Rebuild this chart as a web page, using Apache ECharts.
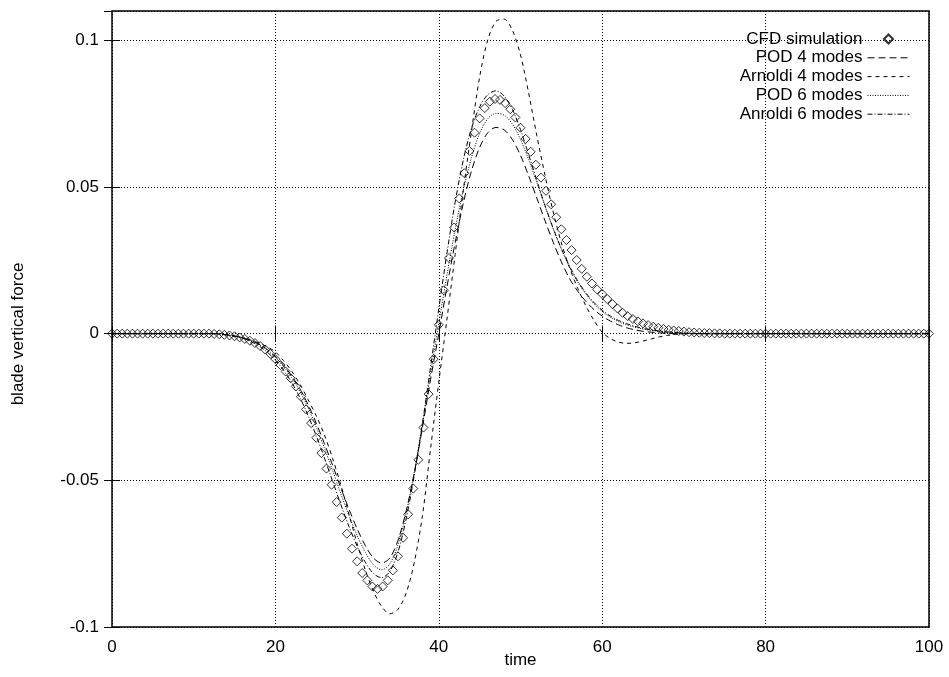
<!DOCTYPE html>
<html>
<head>
<meta charset="utf-8">
<title>blade vertical force</title>
<script src="https://cdn.jsdelivr.net/npm/echarts@6/dist/echarts.min.js"></script>
<style>
  html, body { margin: 0; padding: 0; background: #fff; }
  #chart { width: 949px; height: 677px; }
</style>
</head>
<body>
<div id="chart"></div>
<script>
// CFD samples, one every DT time units (t = 0 .. 100)
const DT = 0.625;
const cfdForce = [
  0, 0, 0, 0, 0, 0, 0, 0, 0, 0,
  0, 0, 0, 0, 0, 0, 0, 0, 0, 0,
  -0.0001, -0.0002, -0.0004, -0.0006, -0.0009, -0.0013, -0.0018, -0.0024, -0.0032, -0.0042,
  -0.0054, -0.0069, -0.0087, -0.0107, -0.0129, -0.0152, -0.018, -0.0215, -0.0258, -0.0305,
  -0.0355, -0.0407, -0.046, -0.0515, -0.0574, -0.0627, -0.0682, -0.0733, -0.0776, -0.0816,
  -0.0841, -0.0862, -0.087, -0.0862, -0.0841, -0.0807, -0.0759, -0.0696, -0.0616, -0.0528,
  -0.043, -0.032, -0.0206, -0.0087, 0.003, 0.0148, 0.0258, 0.0362, 0.0461, 0.0547,
  0.0623, 0.0685, 0.0734, 0.0769, 0.0791, 0.08, 0.0797, 0.0786, 0.0765, 0.0737,
  0.0702, 0.0664, 0.062, 0.0576, 0.0532, 0.0487, 0.0441, 0.0397, 0.0356, 0.0319,
  0.0285, 0.0251, 0.0221, 0.0194, 0.0171, 0.0151, 0.0135, 0.0118, 0.0101, 0.0086,
  0.0071, 0.006, 0.005, 0.0042, 0.0035, 0.0029, 0.0024, 0.002, 0.0016, 0.0013,
  0.0011, 0.0009, 0.0007, 0.0005, 0.0004, 0.0003, 0.0002, 0.0002, 0.0001, 0.0001,
  0, 0, 0, 0, 0, 0, 0, 0, 0, 0,
  0, 0, 0, 0, 0, 0, 0, 0, 0, 0,
  0, 0, 0, 0, 0, 0, 0, 0, 0, 0,
  0, 0, 0, 0, 0, 0, 0, 0, 0, 0,
  0
];

// reduced order models, read at these times
const modelTime = [
  0,
  12, 13, 14, 15, 16, 17, 18, 19,
  20, 21, 22, 23, 24, 25, 26, 27, 28, 29,
  30, 31, 32, 33, 34, 35, 36, 37, 38, 39,
  40, 41, 42, 43, 44, 45, 46, 47, 48, 49,
  50, 51, 52, 53, 54, 55, 56, 57, 58, 59,
  60, 61, 62, 63, 64, 65, 66, 67, 68, 69,
  70, 71, 72,
  100
];
const pod4 = [
  0,
  0, 0, -0.0004, -0.0008, -0.0014, -0.0023, -0.0036, -0.0054,
  -0.0078, -0.0108, -0.0144, -0.0188, -0.0242, -0.0305, -0.0375, -0.0448, -0.0525, -0.0598,
  -0.0665, -0.0722, -0.0765, -0.0782, -0.0765, -0.0705, -0.0605, -0.0475, -0.032, -0.0155,
  0, 0.016, 0.031, 0.0445, 0.0555, 0.0635, 0.0685, 0.0703, 0.0695, 0.0662,
  0.0608, 0.0538, 0.0462, 0.0385, 0.0312, 0.0245, 0.0188, 0.0145, 0.011, 0.0082,
  0.006, 0.0043, 0.003, 0.002, 0.0013, 0.0008, 0.0005, 0.0003, 0.0001, 0,
  0, 0, 0,
  0
];
const arnoldi4 = [
  0,
  0, -0.0001, -0.0004, -0.0008, -0.0014, -0.0022, -0.0032, -0.0045,
  -0.0062, -0.0092, -0.0128, -0.0172, -0.0225, -0.028, -0.0345, -0.0425, -0.0515, -0.0615,
  -0.0715, -0.0805, -0.0878, -0.093, -0.0955, -0.094, -0.0885, -0.078, -0.062, -0.039,
  -0.0165, 0.005, 0.027, 0.049, 0.069, 0.0875, 0.1002, 0.1065, 0.1072, 0.1035,
  0.095, 0.082, 0.0675, 0.054, 0.0415, 0.031, 0.0225, 0.0155, 0.0095, 0.0045,
  0.0005, -0.0017, -0.0029, -0.0033, -0.0031, -0.0025, -0.0018, -0.0011, -0.0006, -0.0002,
  0, 0, 0,
  0
];
const pod6 = [
  0,
  0, 0, -0.0004, -0.0008, -0.0014, -0.0024, -0.0037, -0.0056,
  -0.0081, -0.0112, -0.015, -0.0196, -0.0252, -0.0318, -0.039, -0.0466, -0.0545, -0.062,
  -0.0688, -0.0745, -0.0788, -0.0805, -0.0785, -0.072, -0.0612, -0.0472, -0.0308, -0.0135,
  0.0035, 0.02, 0.0355, 0.049, 0.06, 0.0683, 0.0733, 0.0751, 0.0745, 0.0715,
  0.0662, 0.0593, 0.0515, 0.0435, 0.0358, 0.0288, 0.0227, 0.0176, 0.0135, 0.0102,
  0.0076, 0.0056, 0.0041, 0.003, 0.0022, 0.0016, 0.0011, 0.0008, 0.0005, 0.0003,
  0.0002, 0.0001, 0,
  0
];
const arnoldi6 = [
  0,
  0, 0, -0.0004, -0.0009, -0.0016, -0.0027, -0.0042, -0.0063,
  -0.009, -0.0125, -0.0167, -0.0218, -0.0279, -0.0348, -0.0424, -0.0503, -0.0582, -0.0657,
  -0.0724, -0.0779, -0.0818, -0.0832, -0.0811, -0.0745, -0.0632, -0.0482, -0.0305, -0.0112,
  0.0085, 0.0275, 0.0448, 0.0592, 0.07, 0.0773, 0.0815, 0.0828, 0.081, 0.0765,
  0.0695, 0.061, 0.0522, 0.0437, 0.0359, 0.029, 0.023, 0.018, 0.0139, 0.0106,
  0.008, 0.006, 0.0045, 0.0034, 0.0025, 0.0018, 0.0013, 0.0009, 0.0006, 0.0004,
  0.0002, 0.0001, 0,
  0
];

const FONT = '"Liberation Sans", Arial, Helvetica, sans-serif';

const pairs = (xs, ys) => xs.map((x, i) => [x, ys[i]]);
const cfdTime = cfdForce.map((_, i) => i * DT);

const tickStyle = { show: true, inside: true, length: 8, lineStyle: { color: '#000', width: 1 } };
const gridLine = { show: true, lineStyle: { color: '#000', width: 1, type: [1, 2] } };
const labelStyle = { color: '#000', fontSize: 17, fontFamily: FONT };
// legend sample for the lines: keep the dashed line, hide the marker in its middle
const lineKey = name => ({ name: name, itemStyle: { opacity: 0 } });

function modelLine(name, data, dash) {
  return {
    name: name,
    type: 'line',
    data: pairs(modelTime, data),
    symbol: 'none',
    smooth: 0.3,
    itemStyle: { color: '#000' },
    lineStyle: { color: '#000', width: 1, type: dash },
    silent: true
  };
}

const chart = echarts.init(document.getElementById('chart'));
chart.setOption({
  animation: false,
  backgroundColor: '#fff',
  textStyle: { fontFamily: FONT },
  grid: {
    left: 112, right: 20, top: 11, bottom: 50,
    containLabel: false,
    outerBoundsMode: 'none',
    show: true,
    borderColor: '#000',
    borderWidth: 1.5
  },
  legend: {
    orient: 'vertical',
    right: 39,
    top: 30,
    padding: 0,
    align: 'right',
    itemWidth: 42,
    itemHeight: 9,
    itemGap: 0.8,
    symbolKeepAspect: true,
    selectedMode: false,
    lineStyle: { width: 1 },
    textStyle: { color: '#000', fontSize: 17, fontFamily: FONT, lineHeight: 18 },
    data: [
      { name: 'CFD simulation', icon: 'path://M0,-1L1,0L0,1L-1,0Z' },
      lineKey('POD 4 modes'),
      lineKey('Arnoldi 4 modes'),
      lineKey('POD 6 modes'),
      lineKey('Anroldi 6 modes')
    ]
  },
  xAxis: [
    {
      type: 'value', min: 0, max: 100, interval: 20, position: 'bottom',
      name: 'time', nameLocation: 'middle', nameGap: 25, nameMoveOverlap: false,
      nameTextStyle: labelStyle,
      axisLine: { show: false },
      axisTick: tickStyle,
      axisLabel: Object.assign({ margin: 12 }, labelStyle),
      splitLine: gridLine
    },
    {
      type: 'value', min: 0, max: 100, interval: 20, position: 'top',
      axisLine: { show: false },
      axisTick: tickStyle,
      axisLabel: { show: false },
      splitLine: { show: false }
    }
  ],
  yAxis: [
    {
      type: 'value', min: -0.1, max: 0.11, interval: 0.05, position: 'left',
      name: 'blade vertical force', nameLocation: 'middle', nameGap: 85, nameMoveOverlap: false,
      nameTextStyle: Object.assign({ padding: [0, 30, 0, 0] }, labelStyle),
      axisLine: { show: false },
      axisTick: tickStyle,
      axisLabel: Object.assign({
        margin: 13,
        showMaxLabel: false,
        formatter: v => (Math.abs(v - 0.11) < 1e-9 ? '' : String(+v.toFixed(2)))
      }, labelStyle),
      splitLine: gridLine
    },
    {
      type: 'value', min: -0.1, max: 0.11, interval: 0.05, position: 'right',
      axisLine: { show: false },
      axisTick: tickStyle,
      axisLabel: { show: false },
      splitLine: { show: false }
    }
  ],
  series: [
    {
      name: 'CFD simulation',
      type: 'scatter',
      data: pairs(cfdTime, cfdForce),
      symbol: 'diamond',
      symbolSize: 9,
      clip: false,
      itemStyle: { color: 'transparent', borderColor: '#000', borderWidth: 1 },
      silent: true
    },
    modelLine('POD 4 modes', pod4, [7, 4]),
    modelLine('Arnoldi 4 modes', arnoldi4, [4, 4]),
    modelLine('POD 6 modes', pod6, [1, 1.5]),
    modelLine('Anroldi 6 modes', arnoldi6, [5, 2, 1, 2])
  ]
});
</script>
</body>
</html>
